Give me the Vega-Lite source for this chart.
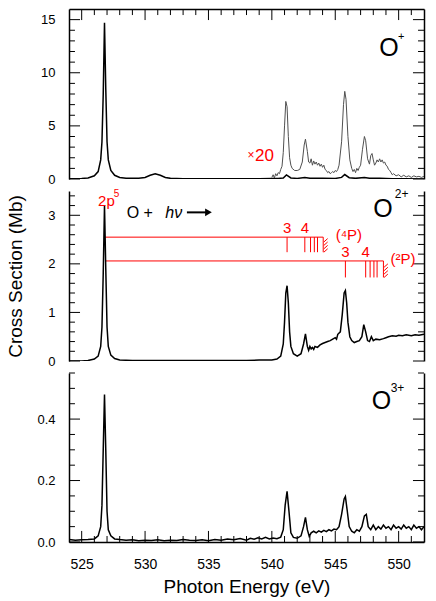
{
  "$schema": "https://vega.github.io/schema/vega-lite/v6.json",
  "autosize": {"type": "pad"},
  "padding": {"left": 5, "top": 8, "right": 5, "bottom": 2},
  "bounds": "flush",
  "spacing": 12,
  "config": {
    "font": "Liberation Sans",
    "view": {"stroke": null},
    "axis": {
      "domainColor": "black", "domainWidth": 1.5, "ticks": false,
      "labelColor": "black", "labelFontSize": 13, "labelFont": "Liberation Sans", "labelOverlap": false,
      "titleFont": "Liberation Sans", "titleFontSize": 19, "titleFontWeight": "normal",
      "titleColor": "black", "grid": false
    },
    "rule": {"color": "black", "strokeWidth": 1}
  },
  "datasets": {
    "oplus": [
      {"e":524.0,"v":0.02},{"e":524.5,"v":0.03},{"e":525.0,"v":0.05},{"e":525.5,"v":0.1},{"e":526.0,"v":0.3},
      {"e":526.3,"v":0.7},{"e":526.5,"v":1.8},{"e":526.6,"v":3.5},{"e":526.7,"v":8.0},{"e":526.8,"v":14.7},
      {"e":526.9,"v":8.5},{"e":527.0,"v":3.5},{"e":527.1,"v":1.8},{"e":527.3,"v":0.8},{"e":527.6,"v":0.35},
      {"e":528.0,"v":0.15},{"e":528.5,"v":0.08},{"e":529.0,"v":0.06},{"e":529.5,"v":0.08},{"e":530.0,"v":0.15},
      {"e":530.4,"v":0.35},{"e":530.8,"v":0.5},{"e":531.2,"v":0.35},{"e":531.6,"v":0.15},{"e":532.0,"v":0.06},
      {"e":533.0,"v":0.03},{"e":534.0,"v":0.02},{"e":535.0,"v":0.02},{"e":536.0,"v":0.02},{"e":537.0,"v":0.02},
      {"e":538.0,"v":0.02},{"e":539.0,"v":0.03},{"e":540.0,"v":0.04},{"e":540.5,"v":0.05},{"e":540.9,"v":0.1},
      {"e":541.15,"v":0.38},{"e":541.5,"v":0.1},{"e":542.0,"v":0.05},{"e":542.6,"v":0.15},{"e":543.0,"v":0.07},
      {"e":544.0,"v":0.06},{"e":545.0,"v":0.05},{"e":545.5,"v":0.15},{"e":545.75,"v":0.42},{"e":546.1,"v":0.12},
      {"e":546.6,"v":0.06},{"e":547.3,"v":0.15},{"e":547.7,"v":0.07},{"e":548.5,"v":0.08},{"e":549.5,"v":0.03},
      {"e":550.5,"v":0.02},{"e":552.0,"v":0.01}
    ],
    "oplus20": [
      {"e":540.0,"v":0.15},{"e":540.1,"v":0.4},{"e":540.2,"v":0.1},{"e":540.3,"v":0.5},{"e":540.4,"v":0.3},
      {"e":540.5,"v":0.6},{"e":540.6,"v":0.5},{"e":540.7,"v":0.9},{"e":540.8,"v":1.2},{"e":540.9,"v":2.5},
      {"e":541.0,"v":5.0},{"e":541.1,"v":7.3},{"e":541.2,"v":6.8},{"e":541.3,"v":4.0},{"e":541.4,"v":2.0},
      {"e":541.5,"v":1.3},{"e":541.6,"v":1.0},{"e":541.8,"v":0.8},{"e":542.0,"v":0.8},{"e":542.2,"v":0.9},
      {"e":542.4,"v":1.6},{"e":542.55,"v":3.2},{"e":542.65,"v":3.75},{"e":542.8,"v":2.6},{"e":542.9,"v":1.6},
      {"e":543.0,"v":1.5},{"e":543.1,"v":1.9},{"e":543.2,"v":1.3},{"e":543.3,"v":1.7},{"e":543.4,"v":1.4},
      {"e":543.5,"v":1.6},{"e":543.6,"v":1.3},{"e":543.7,"v":1.5},{"e":543.8,"v":1.2},{"e":543.9,"v":1.4},
      {"e":544.0,"v":1.1},{"e":544.1,"v":1.3},{"e":544.2,"v":0.9},{"e":544.3,"v":0.8},{"e":544.4,"v":0.6},
      {"e":544.5,"v":0.7},{"e":544.6,"v":0.5},{"e":544.7,"v":0.6},{"e":544.8,"v":0.7},{"e":544.9,"v":0.6},
      {"e":545.0,"v":0.8},{"e":545.1,"v":0.7},{"e":545.2,"v":0.9},{"e":545.3,"v":1.3},{"e":545.5,"v":3.5},
      {"e":545.65,"v":7.0},{"e":545.75,"v":8.25},{"e":545.85,"v":7.5},{"e":546.0,"v":4.0},{"e":546.15,"v":1.8},
      {"e":546.3,"v":1.0},{"e":546.4,"v":0.7},{"e":546.5,"v":0.9},{"e":546.6,"v":0.6},{"e":546.7,"v":1.0},
      {"e":546.8,"v":0.8},{"e":546.9,"v":1.1},{"e":547.0,"v":1.3},{"e":547.15,"v":2.8},{"e":547.3,"v":4.0},
      {"e":547.4,"v":3.6},{"e":547.55,"v":1.9},{"e":547.7,"v":1.4},{"e":547.8,"v":2.2},{"e":547.9,"v":2.4},
      {"e":548.0,"v":1.8},{"e":548.1,"v":1.3},{"e":548.2,"v":1.5},{"e":548.3,"v":1.8},{"e":548.4,"v":1.6},
      {"e":548.5,"v":1.9},{"e":548.6,"v":1.6},{"e":548.7,"v":1.8},{"e":548.8,"v":1.5},{"e":548.9,"v":1.6},
      {"e":549.0,"v":1.3},{"e":549.1,"v":1.2},{"e":549.2,"v":0.9},{"e":549.3,"v":0.8},{"e":549.4,"v":0.6},
      {"e":549.5,"v":0.4},{"e":549.6,"v":0.5},{"e":549.8,"v":0.3},{"e":550.0,"v":0.4},{"e":550.2,"v":0.2},
      {"e":550.4,"v":0.35},{"e":550.6,"v":0.2},{"e":550.8,"v":0.3},{"e":551.0,"v":0.15},{"e":551.2,"v":0.3},
      {"e":551.4,"v":0.2},{"e":551.6,"v":0.25},{"e":551.8,"v":0.15},{"e":552.0,"v":0.25}
    ],
    "o2": [
      {"e":524.0,"v":0.0},{"e":525.0,"v":0.0},{"e":525.5,"v":0.01},{"e":526.0,"v":0.04},{"e":526.3,"v":0.1},
      {"e":526.5,"v":0.3},{"e":526.6,"v":0.7},{"e":526.7,"v":1.8},{"e":526.8,"v":3.2},{"e":526.9,"v":1.9},
      {"e":527.0,"v":0.7},{"e":527.1,"v":0.3},{"e":527.3,"v":0.12},{"e":527.6,"v":0.05},{"e":528.0,"v":0.02},
      {"e":529.0,"v":0.01},{"e":530.0,"v":0.01},{"e":532.0,"v":0.01},{"e":534.0,"v":0.01},{"e":536.0,"v":0.01},
      {"e":538.0,"v":0.01},{"e":539.0,"v":0.02},{"e":540.0,"v":0.02},{"e":540.4,"v":0.04},{"e":540.7,"v":0.1},
      {"e":540.9,"v":0.35},{"e":541.0,"v":0.8},{"e":541.1,"v":1.4},{"e":541.2,"v":1.55},{"e":541.3,"v":1.2},
      {"e":541.4,"v":0.6},{"e":541.5,"v":0.3},{"e":541.7,"v":0.15},{"e":542.0,"v":0.1},{"e":542.3,"v":0.15},
      {"e":542.5,"v":0.35},{"e":542.65,"v":0.56},{"e":542.8,"v":0.3},{"e":542.9,"v":0.22},{"e":543.0,"v":0.3},
      {"e":543.1,"v":0.25},{"e":543.2,"v":0.28},{"e":543.3,"v":0.24},{"e":543.4,"v":0.3},{"e":543.6,"v":0.28},
      {"e":543.8,"v":0.33},{"e":544.0,"v":0.36},{"e":544.2,"v":0.38},{"e":544.4,"v":0.4},{"e":544.6,"v":0.42},
      {"e":544.8,"v":0.45},{"e":545.0,"v":0.48},{"e":545.1,"v":0.45},{"e":545.2,"v":0.55},{"e":545.4,"v":0.6},
      {"e":545.55,"v":0.95},{"e":545.7,"v":1.4},{"e":545.8,"v":1.45},{"e":545.9,"v":1.2},{"e":546.0,"v":0.8},
      {"e":546.15,"v":0.5},{"e":546.3,"v":0.42},{"e":546.5,"v":0.38},{"e":546.7,"v":0.4},{"e":546.9,"v":0.42},
      {"e":547.1,"v":0.5},{"e":547.25,"v":0.75},{"e":547.4,"v":0.6},{"e":547.55,"v":0.42},{"e":547.7,"v":0.4},
      {"e":547.85,"v":0.5},{"e":548.0,"v":0.42},{"e":548.2,"v":0.45},{"e":548.5,"v":0.44},{"e":548.8,"v":0.46},
      {"e":549.0,"v":0.48},{"e":549.2,"v":0.5},{"e":549.5,"v":0.52},{"e":549.8,"v":0.51},{"e":550.0,"v":0.53},
      {"e":550.3,"v":0.52},{"e":550.6,"v":0.54},{"e":551.0,"v":0.52},{"e":551.3,"v":0.54},{"e":551.6,"v":0.53},
      {"e":552.0,"v":0.55}
    ],
    "o3": [
      {"e":524.0,"v":0.008},{"e":524.5,"v":0.006},{"e":525.0,"v":0.007},{"e":525.5,"v":0.008},{"e":526.0,"v":0.01},
      {"e":526.3,"v":0.02},{"e":526.5,"v":0.05},{"e":526.6,"v":0.12},{"e":526.7,"v":0.3},{"e":526.8,"v":0.48},
      {"e":526.9,"v":0.3},{"e":527.0,"v":0.1},{"e":527.1,"v":0.04},{"e":527.3,"v":0.02},{"e":527.6,"v":0.01},
      {"e":528.0,"v":0.008},{"e":528.5,"v":0.006},{"e":529.0,"v":0.007},{"e":529.5,"v":0.004},{"e":530.0,"v":0.006},
      {"e":530.5,"v":0.005},{"e":531.0,"v":0.007},{"e":531.5,"v":0.004},{"e":532.0,"v":0.006},{"e":532.5,"v":0.005},
      {"e":533.0,"v":0.008},{"e":533.5,"v":0.006},{"e":534.0,"v":0.005},{"e":534.5,"v":0.007},{"e":535.0,"v":0.004},
      {"e":535.5,"v":0.008},{"e":536.0,"v":0.006},{"e":536.5,"v":0.01},{"e":537.0,"v":0.007},{"e":537.5,"v":0.011},
      {"e":538.0,"v":0.006},{"e":538.3,"v":0.012},{"e":538.6,"v":0.009},{"e":538.9,"v":0.014},{"e":539.2,"v":0.01},
      {"e":539.5,"v":0.015},{"e":539.8,"v":0.01},{"e":540.1,"v":0.013},{"e":540.4,"v":0.011},{"e":540.7,"v":0.016},
      {"e":540.9,"v":0.04},{"e":541.05,"v":0.12},{"e":541.2,"v":0.165},{"e":541.35,"v":0.1},{"e":541.5,"v":0.03},
      {"e":541.7,"v":0.015},{"e":542.0,"v":0.012},{"e":542.3,"v":0.02},{"e":542.5,"v":0.05},{"e":542.65,"v":0.08},
      {"e":542.8,"v":0.04},{"e":542.95,"v":0.018},{"e":543.1,"v":0.03},{"e":543.3,"v":0.035},{"e":543.5,"v":0.03},
      {"e":543.7,"v":0.036},{"e":543.9,"v":0.032},{"e":544.1,"v":0.038},{"e":544.3,"v":0.034},{"e":544.5,"v":0.04},
      {"e":544.7,"v":0.036},{"e":544.9,"v":0.042},{"e":545.1,"v":0.04},{"e":545.3,"v":0.05},{"e":545.5,"v":0.09},
      {"e":545.7,"v":0.14},{"e":545.8,"v":0.148},{"e":545.95,"v":0.1},{"e":546.1,"v":0.05},{"e":546.3,"v":0.035},
      {"e":546.5,"v":0.03},{"e":546.7,"v":0.04},{"e":546.9,"v":0.035},{"e":547.1,"v":0.05},{"e":547.3,"v":0.085},
      {"e":547.45,"v":0.09},{"e":547.6,"v":0.05},{"e":547.8,"v":0.04},{"e":548.0,"v":0.055},{"e":548.2,"v":0.04},
      {"e":548.4,"v":0.05},{"e":548.6,"v":0.042},{"e":548.8,"v":0.055},{"e":549.0,"v":0.045},{"e":549.2,"v":0.05},
      {"e":549.4,"v":0.04},{"e":549.6,"v":0.055},{"e":549.8,"v":0.045},{"e":550.0,"v":0.05},{"e":550.2,"v":0.042},
      {"e":550.4,"v":0.055},{"e":550.6,"v":0.045},{"e":550.8,"v":0.05},{"e":551.0,"v":0.04},{"e":551.2,"v":0.055},
      {"e":551.4,"v":0.045},{"e":551.6,"v":0.05},{"e":551.8,"v":0.04},{"e":552.0,"v":0.05}
    ],
    "xt": [
      {"e":525,"k":"M"},{"e":530,"k":"M"},{"e":535,"k":"M"},{"e":540,"k":"M"},{"e":545,"k":"M"},{"e":550,"k":"M"},
      {"e":526,"k":"m"},{"e":527,"k":"m"},{"e":528,"k":"m"},{"e":529,"k":"m"},{"e":531,"k":"m"},{"e":532,"k":"m"},
      {"e":533,"k":"m"},{"e":534,"k":"m"},{"e":536,"k":"m"},{"e":537,"k":"m"},{"e":538,"k":"m"},{"e":539,"k":"m"},
      {"e":541,"k":"m"},{"e":542,"k":"m"},{"e":543,"k":"m"},{"e":544,"k":"m"},{"e":546,"k":"m"},{"e":547,"k":"m"},
      {"e":548,"k":"m"},{"e":549,"k":"m"},{"e":551,"k":"m"}
    ],
    "yt1": [
      {"v":0,"k":"M"},{"v":5,"k":"M"},{"v":10,"k":"M"},{"v":15,"k":"M"},
      {"v":1,"k":"m"},{"v":2,"k":"m"},{"v":3,"k":"m"},{"v":4,"k":"m"},{"v":6,"k":"m"},{"v":7,"k":"m"},{"v":8,"k":"m"},
      {"v":9,"k":"m"},{"v":11,"k":"m"},{"v":12,"k":"m"},{"v":13,"k":"m"},{"v":14,"k":"m"}
    ],
    "yt2": [
      {"v":0,"k":"M"},{"v":1,"k":"M"},{"v":2,"k":"M"},{"v":3,"k":"M"},
      {"v":0.2,"k":"m"},{"v":0.4,"k":"m"},{"v":0.6,"k":"m"},{"v":0.8,"k":"m"},{"v":1.2,"k":"m"},{"v":1.4,"k":"m"},
      {"v":1.6,"k":"m"},{"v":1.8,"k":"m"},{"v":2.2,"k":"m"},{"v":2.4,"k":"m"},{"v":2.6,"k":"m"},{"v":2.8,"k":"m"},
      {"v":3.2,"k":"m"},{"v":3.4,"k":"m"}
    ],
    "yt3": [
      {"v":0,"k":"M"},{"v":0.2,"k":"M"},{"v":0.4,"k":"M"},
      {"v":0.05,"k":"m"},{"v":0.1,"k":"m"},{"v":0.15,"k":"m"},{"v":0.25,"k":"m"},{"v":0.3,"k":"m"},
      {"v":0.35,"k":"m"},{"v":0.45,"k":"m"},{"v":0.5,"k":"m"},{"v":0.55,"k":"m"}
    ],
    "ionO": [
      {"p":1,"e":549.24,"v":11.6,"t":"O"},{"p":2,"e":548.76,"v":2.97,"t":"O"},{"p":3,"e":548.64,"v":0.433,"t":"O"}
    ],
    "ionSup": [
      {"p":1,"e":549.95,"v":13.1,"t":"+"},{"p":2,"e":549.7,"v":3.35,"t":"2+"},{"p":3,"e":549.37,"v":0.489,"t":"3+"}
    ],
    "series": [
      {"e":526.85,"e2":544.05,"v":2.55},{"e":526.85,"e2":548.8,"v":2.06}
    ],
    "levels": [
      {"e":541.2,"v":2.55,"v2":2.24},{"e":542.6,"v":2.55,"v2":2.24},{"e":543.05,"v":2.55,"v2":2.24},
      {"e":543.35,"v":2.55,"v2":2.24},{"e":543.6,"v":2.55,"v2":2.24},{"e":544.05,"v":2.55,"v2":2.24},
      {"e":545.8,"v":2.06,"v2":1.72},{"e":547.4,"v":2.06,"v2":1.72},{"e":547.75,"v":2.06,"v2":1.72},
      {"e":548.05,"v":2.06,"v2":1.72},{"e":548.3,"v":2.06,"v2":1.72},{"e":548.8,"v":2.06,"v2":1.72}
    ],
    "hatch": [
      {"e":544.1,"e2":544.4,"v":2.24,"v2":2.31},{"e":544.1,"e2":544.4,"v":2.31,"v2":2.38},
      {"e":544.1,"e2":544.4,"v":2.38,"v2":2.45},{"e":544.1,"e2":544.4,"v":2.45,"v2":2.52},
      {"e":548.85,"e2":549.15,"v":1.72,"v2":1.79},{"e":548.85,"e2":549.15,"v":1.79,"v2":1.86},
      {"e":548.85,"e2":549.15,"v":1.86,"v2":1.93},{"e":548.85,"e2":549.15,"v":1.93,"v2":2.0}
    ],
    "redC": [
      {"e":541.2,"v":2.63,"t":"3"},{"e":542.6,"v":2.63,"t":"4"},
      {"e":545.8,"v":2.15,"t":"3"},{"e":547.4,"v":2.15,"t":"4"},
      {"e":526.95,"v":3.2,"t":"2p"}
    ],
    "redSup": [{"e":527.75,"v":3.37,"t":"5"}],
    "redL": [
      {"e":545.03,"v":2.49,"t":"(⁴P)"},{"e":549.36,"v":2.0,"t":"(²P)"}
    ],
    "reaction": [{"e":528.55,"v":2.94,"t":"O +"}],
    "hv": [{"e":531.6,"v":2.94,"t":"hν"}],
    "arrow": [{"e":533.3,"e2":534.9,"v":3.06}],
    "arrowhead": [{"e":535.0,"v":3.06}],
    "x20a": [{"e":538.35,"v":1.89,"t":"×"}],
    "x20b": [{"e":538.67,"v":1.7,"t":"20"}]
  },
  "vconcat": [
    {
      "width": 355, "height": 170,
      "layer": [
        {
          "data": {"name": "oplus"},
          "mark": {"type": "line", "color": "black", "strokeWidth": 1.5, "clip": true},
          "encoding": {
            "x": {"field": "e", "type": "quantitative", "scale": {"domain": [524, 552], "nice": false, "zero": false},
              "axis": {"orient": "top", "title": null, "labels": false}},
            "y": {"field": "v", "type": "quantitative", "scale": {"domain": [0, 16], "nice": false},
              "axis": {"orient": "left", "title": null, "labelPadding": 14, "values": [0,5,10,15]}}
          }
        },
        {
          "data": {"name": "oplus20"},
          "mark": {"type": "line", "color": "#505050", "strokeWidth": 1},
          "encoding": {
            "x": {"field": "e", "type": "quantitative", "axis": null},
            "y": {"field": "v", "type": "quantitative", "axis": {"orient": "right", "title": null, "labels": false}}
          }
        },
        {
          "data": {"name": "yt1"}, "transform": [{"filter": "datum.k === 'M'"}],
          "mark": {"type": "rule"},
          "encoding": {"y": {"field": "v", "type": "quantitative", "axis": null},
            "x": {"datum": 524, "type": "quantitative", "axis": null}, "x2": {"datum": 524.87}}
        },
        {
          "data": {"name": "yt1"}, "transform": [{"filter": "datum.k === 'm'"}],
          "mark": {"type": "rule"},
          "encoding": {"y": {"field": "v", "type": "quantitative", "axis": null},
            "x": {"datum": 524, "type": "quantitative", "axis": null}, "x2": {"datum": 524.47}}
        },
        {
          "data": {"name": "yt1"}, "transform": [{"filter": "datum.k === 'M'"}],
          "mark": {"type": "rule"},
          "encoding": {"y": {"field": "v", "type": "quantitative", "axis": null},
            "x": {"datum": 552, "type": "quantitative", "axis": null}, "x2": {"datum": 551.13}}
        },
        {
          "data": {"name": "yt1"}, "transform": [{"filter": "datum.k === 'm'"}],
          "mark": {"type": "rule"},
          "encoding": {"y": {"field": "v", "type": "quantitative", "axis": null},
            "x": {"datum": 552, "type": "quantitative", "axis": null}, "x2": {"datum": 551.53}}
        },
        {
          "data": {"name": "xt"}, "transform": [{"filter": "datum.k === 'M'"}],
          "mark": {"type": "rule"},
          "encoding": {"x": {"field": "e", "type": "quantitative", "axis": null},
            "y": {"datum": 16, "type": "quantitative", "axis": null}, "y2": {"datum": 14.96}}
        },
        {
          "data": {"name": "xt"}, "transform": [{"filter": "datum.k === 'm'"}],
          "mark": {"type": "rule"},
          "encoding": {"x": {"field": "e", "type": "quantitative", "axis": null},
            "y": {"datum": 16, "type": "quantitative", "axis": null}, "y2": {"datum": 15.43}}
        },
        {
          "data": {"name": "ionO"},
          "transform": [{"filter": "datum.p === 1"}],
          "mark": {"type": "text", "fontSize": 25, "align": "center", "baseline": "alphabetic", "color": "black"},
          "encoding": {
            "x": {"field": "e", "type": "quantitative", "axis": null},
            "y": {"field": "v", "type": "quantitative", "axis": null},
            "text": {"field": "t"}
          }
        },
        {
          "data": {"name": "ionSup"},
          "transform": [{"filter": "datum.p === 1"}],
          "mark": {"type": "text", "fontSize": 11, "align": "left", "baseline": "alphabetic", "color": "black"},
          "encoding": {
            "x": {"field": "e", "type": "quantitative", "axis": null},
            "y": {"field": "v", "type": "quantitative", "axis": null},
            "text": {"field": "t"}
          }
        },
        {
          "data": {"name": "x20a"},
          "mark": {"type": "text", "fontSize": 12, "align": "center", "baseline": "alphabetic", "color": "#ff0000"},
          "encoding": {
            "x": {"field": "e", "type": "quantitative", "axis": null},
            "y": {"field": "v", "type": "quantitative", "axis": null},
            "text": {"field": "t"}
          }
        },
        {
          "data": {"name": "x20b"},
          "mark": {"type": "text", "fontSize": 17, "align": "left", "baseline": "alphabetic", "color": "#ff0000"},
          "encoding": {
            "x": {"field": "e", "type": "quantitative", "axis": null},
            "y": {"field": "v", "type": "quantitative", "axis": null},
            "text": {"field": "t"}
          }
        }
      ],
      "resolve": {"axis": {"x": "independent", "y": "independent"}}
    },
    {
      "width": 355, "height": 170,
      "layer": [
        {
          "data": {"name": "series"},
          "mark": {"type": "rule", "color": "#ff0000", "strokeWidth": 1},
          "encoding": {
            "x": {"field": "e", "type": "quantitative", "scale": {"domain": [524, 552], "nice": false, "zero": false}, "axis": null},
            "x2": {"field": "e2"},
            "y": {"field": "v", "type": "quantitative", "scale": {"domain": [0, 3.5], "nice": false},
              "axis": {"orient": "left", "title": "Cross Section (Mb)", "labelPadding": 14, "format": "d",
                "values": [0,1,2,3],
                "titleAngle": -90, "titleX": -48, "titleY": 85, "titleAlign": "center", "titleBaseline": "alphabetic"}}
          }
        },
        {
          "data": {"name": "levels"},
          "mark": {"type": "rule", "color": "#ff0000", "strokeWidth": 1},
          "encoding": {
            "x": {"field": "e", "type": "quantitative", "axis": null},
            "y": {"field": "v", "type": "quantitative", "axis": {"orient": "right", "title": null, "labels": false}},
            "y2": {"field": "v2"}
          }
        },
        {
          "data": {"name": "hatch"},
          "mark": {"type": "rule", "color": "#ff0000", "strokeWidth": 1},
          "encoding": {
            "x": {"field": "e", "type": "quantitative", "axis": null},
            "x2": {"field": "e2"},
            "y": {"field": "v", "type": "quantitative", "axis": null},
            "y2": {"field": "v2"}
          }
        },
        {
          "data": {"name": "yt2"}, "transform": [{"filter": "datum.k === 'M'"}],
          "mark": {"type": "rule"},
          "encoding": {"y": {"field": "v", "type": "quantitative", "axis": null},
            "x": {"datum": 524, "type": "quantitative", "axis": null}, "x2": {"datum": 524.87}}
        },
        {
          "data": {"name": "yt2"}, "transform": [{"filter": "datum.k === 'm'"}],
          "mark": {"type": "rule"},
          "encoding": {"y": {"field": "v", "type": "quantitative", "axis": null},
            "x": {"datum": 524, "type": "quantitative", "axis": null}, "x2": {"datum": 524.47}}
        },
        {
          "data": {"name": "yt2"}, "transform": [{"filter": "datum.k === 'M'"}],
          "mark": {"type": "rule"},
          "encoding": {"y": {"field": "v", "type": "quantitative", "axis": null},
            "x": {"datum": 552, "type": "quantitative", "axis": null}, "x2": {"datum": 551.13}}
        },
        {
          "data": {"name": "yt2"}, "transform": [{"filter": "datum.k === 'm'"}],
          "mark": {"type": "rule"},
          "encoding": {"y": {"field": "v", "type": "quantitative", "axis": null},
            "x": {"datum": 552, "type": "quantitative", "axis": null}, "x2": {"datum": 551.53}}
        },
        {
          "data": {"name": "o2"},
          "mark": {"type": "line", "color": "black", "strokeWidth": 1.5, "clip": true},
          "encoding": {
            "x": {"field": "e", "type": "quantitative", "axis": null},
            "y": {"field": "v", "type": "quantitative", "axis": null}
          }
        },
        {
          "data": {"name": "redC"},
          "mark": {"type": "text", "fontSize": 15, "align": "center", "baseline": "alphabetic", "color": "#ff0000"},
          "encoding": {
            "x": {"field": "e", "type": "quantitative", "axis": null},
            "y": {"field": "v", "type": "quantitative", "axis": null},
            "text": {"field": "t"}
          }
        },
        {
          "data": {"name": "redSup"},
          "mark": {"type": "text", "fontSize": 10, "align": "center", "baseline": "alphabetic", "color": "#ff0000"},
          "encoding": {
            "x": {"field": "e", "type": "quantitative", "axis": null},
            "y": {"field": "v", "type": "quantitative", "axis": null},
            "text": {"field": "t"}
          }
        },
        {
          "data": {"name": "redL"},
          "mark": {"type": "text", "fontSize": 15, "align": "left", "baseline": "alphabetic", "color": "#ff0000"},
          "encoding": {
            "x": {"field": "e", "type": "quantitative", "axis": null},
            "y": {"field": "v", "type": "quantitative", "axis": null},
            "text": {"field": "t"}
          }
        },
        {
          "data": {"name": "reaction"},
          "mark": {"type": "text", "fontSize": 16, "align": "left", "baseline": "alphabetic", "color": "black"},
          "encoding": {
            "x": {"field": "e", "type": "quantitative", "axis": null},
            "y": {"field": "v", "type": "quantitative", "axis": null},
            "text": {"field": "t"}
          }
        },
        {
          "data": {"name": "hv"},
          "mark": {"type": "text", "fontSize": 16, "fontStyle": "italic", "align": "left", "baseline": "alphabetic", "color": "black"},
          "encoding": {
            "x": {"field": "e", "type": "quantitative", "axis": null},
            "y": {"field": "v", "type": "quantitative", "axis": null},
            "text": {"field": "t"}
          }
        },
        {
          "data": {"name": "arrow"},
          "mark": {"type": "rule", "color": "black", "strokeWidth": 2},
          "encoding": {
            "x": {"field": "e", "type": "quantitative", "axis": null},
            "x2": {"field": "e2"},
            "y": {"field": "v", "type": "quantitative", "axis": null}
          }
        },
        {
          "data": {"name": "arrowhead"},
          "mark": {"type": "point", "shape": "triangle-right", "filled": true, "color": "black", "size": 60, "opacity": 1},
          "encoding": {
            "x": {"field": "e", "type": "quantitative", "axis": null},
            "y": {"field": "v", "type": "quantitative", "axis": null}
          }
        },
        {
          "data": {"name": "ionO"},
          "transform": [{"filter": "datum.p === 2"}],
          "mark": {"type": "text", "fontSize": 25, "align": "center", "baseline": "alphabetic", "color": "black"},
          "encoding": {
            "x": {"field": "e", "type": "quantitative", "axis": null},
            "y": {"field": "v", "type": "quantitative", "axis": null},
            "text": {"field": "t"}
          }
        },
        {
          "data": {"name": "ionSup"},
          "transform": [{"filter": "datum.p === 2"}],
          "mark": {"type": "text", "fontSize": 12, "align": "left", "baseline": "alphabetic", "color": "black"},
          "encoding": {
            "x": {"field": "e", "type": "quantitative", "axis": null},
            "y": {"field": "v", "type": "quantitative", "axis": null},
            "text": {"field": "t"}
          }
        }
      ],
      "resolve": {"axis": {"x": "independent", "y": "independent"}}
    },
    {
      "width": 355, "height": 169,
      "layer": [
        {
          "data": {"name": "o3"},
          "mark": {"type": "line", "color": "black", "strokeWidth": 1.5, "clip": true},
          "encoding": {
            "x": {"field": "e", "type": "quantitative", "scale": {"domain": [524, 552], "nice": false, "zero": false},
              "axis": {"orient": "bottom", "title": "Photon Energy (eV)", "labelPadding": 15, "format": "d",
                "values": [525,530,535,540,545,550], "labelFontSize": 14, "titlePadding": 6}},
            "y": {"field": "v", "type": "quantitative", "scale": {"domain": [0, 0.55], "nice": false},
              "axis": {"orient": "left", "title": null, "labelPadding": 14, "format": ".1f", "values": [0,0.2,0.4]}}
          }
        },
        {
          "data": {"name": "yt3"}, "transform": [{"filter": "datum.k === 'M'"}],
          "mark": {"type": "rule"},
          "encoding": {"y": {"field": "v", "type": "quantitative", "axis": {"orient": "right", "title": null, "labels": false}},
            "x": {"datum": 524, "type": "quantitative", "axis": null}, "x2": {"datum": 524.87}}
        },
        {
          "data": {"name": "yt3"}, "transform": [{"filter": "datum.k === 'm'"}],
          "mark": {"type": "rule"},
          "encoding": {"y": {"field": "v", "type": "quantitative", "axis": null},
            "x": {"datum": 524, "type": "quantitative", "axis": null}, "x2": {"datum": 524.47}}
        },
        {
          "data": {"name": "yt3"}, "transform": [{"filter": "datum.k === 'M'"}],
          "mark": {"type": "rule"},
          "encoding": {"y": {"field": "v", "type": "quantitative", "axis": null},
            "x": {"datum": 552, "type": "quantitative", "axis": null}, "x2": {"datum": 551.13}}
        },
        {
          "data": {"name": "yt3"}, "transform": [{"filter": "datum.k === 'm'"}],
          "mark": {"type": "rule"},
          "encoding": {"y": {"field": "v", "type": "quantitative", "axis": null},
            "x": {"datum": 552, "type": "quantitative", "axis": null}, "x2": {"datum": 551.53}}
        },
        {
          "data": {"name": "xt"}, "transform": [{"filter": "datum.k === 'M'"}],
          "mark": {"type": "rule"},
          "encoding": {"x": {"field": "e", "type": "quantitative", "axis": null},
            "y": {"datum": 0, "type": "quantitative", "axis": null}, "y2": {"datum": 0.036}}
        },
        {
          "data": {"name": "xt"}, "transform": [{"filter": "datum.k === 'm'"}],
          "mark": {"type": "rule"},
          "encoding": {"x": {"field": "e", "type": "quantitative", "axis": null},
            "y": {"datum": 0, "type": "quantitative", "axis": null}, "y2": {"datum": 0.0195}}
        },
        {
          "data": {"name": "ionO"},
          "transform": [{"filter": "datum.p === 3"}],
          "mark": {"type": "text", "fontSize": 25, "align": "center", "baseline": "alphabetic", "color": "black"},
          "encoding": {
            "x": {"field": "e", "type": "quantitative", "axis": null},
            "y": {"field": "v", "type": "quantitative", "axis": null},
            "text": {"field": "t"}
          }
        },
        {
          "data": {"name": "ionSup"},
          "transform": [{"filter": "datum.p === 3"}],
          "mark": {"type": "text", "fontSize": 12, "align": "left", "baseline": "alphabetic", "color": "black"},
          "encoding": {
            "x": {"field": "e", "type": "quantitative", "axis": null},
            "y": {"field": "v", "type": "quantitative", "axis": null},
            "text": {"field": "t"}
          }
        }
      ],
      "resolve": {"axis": {"x": "independent", "y": "independent"}}
    }
  ]
}
